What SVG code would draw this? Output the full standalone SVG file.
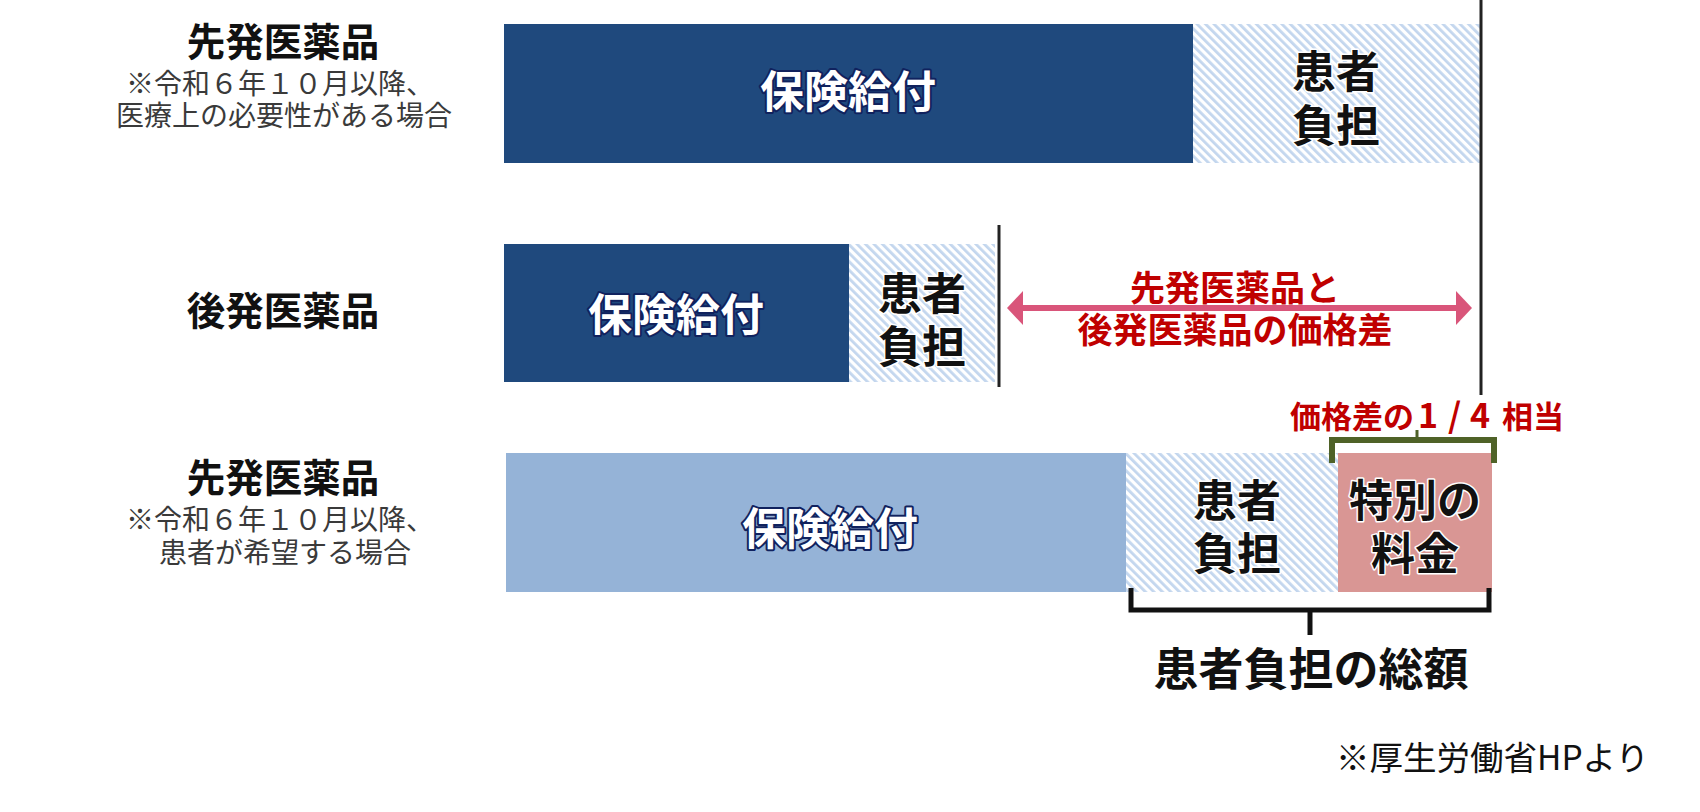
<svg xmlns="http://www.w3.org/2000/svg" width="1700" height="812" viewBox="0 0 1700 812">
<defs>
<pattern id="hatch" patternUnits="userSpaceOnUse" width="6" height="6" patternTransform="rotate(-45)">
<rect width="6" height="6" fill="#ffffff"/>
<rect width="2.8" height="6" fill="#c3d6ee"/>
</pattern>
<marker id="arr" markerUnits="userSpaceOnUse" viewBox="0 0 16 34" markerWidth="16" markerHeight="34" refX="1" refY="17" orient="auto-start-reverse">
<path d="M0,0 L16,17 L0,34 Z" fill="#d9557a"/>
</marker>
</defs>
<style>
text{font-family:"Noto Sans CJK JP","Noto Sans",sans-serif;}
.title{font-size:38.5px;font-weight:700;fill:#111;text-anchor:middle}
.sub{font-size:28px;font-weight:400;fill:#3a3a3a;text-anchor:middle}
.ins{font-size:44px;font-weight:700;fill:#fff;stroke:#10225e;stroke-width:4;paint-order:stroke;stroke-linejoin:round;text-anchor:middle}
.pt{font-size:44px;font-weight:700;fill:#111;stroke:#fff;stroke-width:3;paint-order:stroke;stroke-linejoin:round;text-anchor:middle}
.red{font-weight:700;fill:#c00000}
.dark{fill:#1f497d}
.light{fill:#95b3d7}
.hatch{fill:url(#hatch)}
.pink{fill:#d99694}
.vline{stroke:#222;stroke-width:3;fill:none}
</style>
<rect width="1700" height="812" fill="#fff"/>

<g id="label-row1">
<text class="title" x="283" y="56">先発医薬品</text>
<text class="sub" x="280" y="94">※令和６年１０月以降、</text>
<text class="sub" x="284" y="126">医療上の必要性がある場合</text>
</g>
<g id="label-row2">
<text class="title" x="283" y="325">後発医薬品</text>
</g>
<g id="label-row3">
<text class="title" x="283" y="492">先発医薬品</text>
<text class="sub" x="280" y="530">※令和６年１０月以降、</text>
<text class="sub" x="285" y="563">患者が希望する場合</text>
</g>

<g id="bar1-insurance">
<rect class="dark" x="504" y="24" width="689" height="139"/>
<text class="ins" x="848" y="108">保険給付</text>
</g>
<g id="bar1-patient">
<rect class="hatch" x="1193" y="24" width="287" height="139"/>
<text class="pt" x="1336" y="88">患者</text>
<text class="pt" x="1336" y="142">負担</text>
</g>

<g id="bar2-insurance">
<rect class="dark" x="504" y="244" width="345" height="138"/>
<text class="ins" x="676" y="331">保険給付</text>
</g>
<g id="bar2-patient">
<rect class="hatch" x="849" y="244" width="146" height="138"/>
<text class="pt" x="922" y="310">患者</text>
<text class="pt" x="922" y="363">負担</text>
</g>

<g id="bar3-insurance">
<rect class="light" x="506" y="453" width="620" height="139"/>
<text class="ins" x="830" y="545">保険給付</text>
</g>
<g id="bar3-patient">
<rect class="hatch" x="1126" y="453" width="212" height="139"/>
<text class="pt" x="1237" y="517">患者</text>
<text class="pt" x="1237" y="570">負担</text>
</g>
<g id="bar3-special">
<rect class="pink" x="1338" y="453" width="154" height="139"/>
<text class="pt" x="1415" y="517">特別の</text>
<text class="pt" x="1415" y="570">料金</text>
</g>

<g id="connectors">
<line class="vline" x1="1481" y1="0" x2="1481" y2="395"/>
<line class="vline" x1="999" y1="225" x2="999" y2="387"/>
<line x1="1022" y1="308" x2="1457" y2="308" stroke="#d9557a" stroke-width="6" marker-start="url(#arr)" marker-end="url(#arr)"/>
<path d="M1332,463 V440 H1494 V463" fill="none" stroke="#4f6228" stroke-width="6"/>
<path d="M1417,440 V430" fill="none" stroke="#4f6228" stroke-width="3"/>
<path d="M1131,588 V610 H1489 V588" fill="none" stroke="#111" stroke-width="5"/>
<path d="M1310,610 V635" fill="none" stroke="#111" stroke-width="5"/>
</g>

<g id="label-diff">
<text class="red" x="1235" y="301" font-size="35" text-anchor="middle">先発医薬品と</text>
<text class="red" x="1235" y="343" font-size="35" text-anchor="middle">後発医薬品の価格差</text>
</g>
<g id="label-quarter">
<text class="red" x="1290" y="428" font-size="31">価格差の<tspan x="1418" font-size="34">1</tspan><tspan x="1448" font-size="34">/</tspan><tspan x="1470" font-size="34">4</tspan><tspan x="1502">相当</tspan></text>
</g>
<g id="label-total">
<text x="1311" y="686" font-size="45" font-weight="700" fill="#111" text-anchor="middle">患者負担の総額</text>
</g>
<g id="source">
<text x="1336" y="770" font-size="33.5" fill="#111">※厚生労働省HPより</text>
</g>
</svg>
